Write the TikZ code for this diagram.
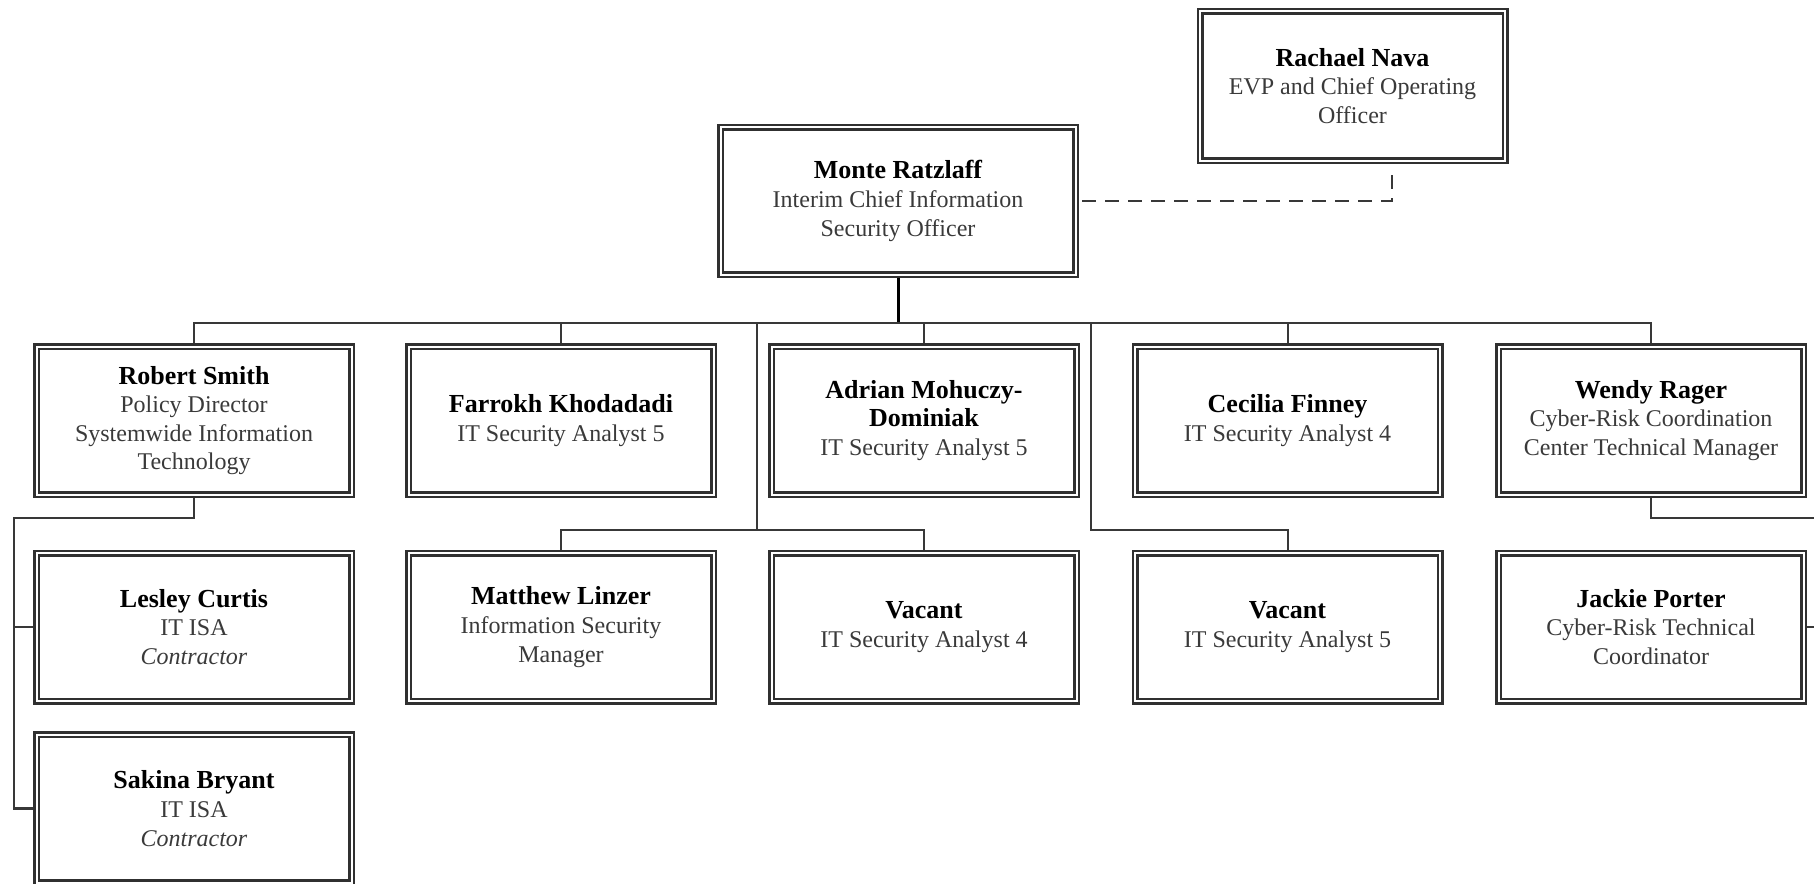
\documentclass[tikz,border=0pt]{standalone}
\usepackage{fontspec}
\setmainfont{Liberation Serif}
\usetikzlibrary{backgrounds}
\definecolor{boxline}{HTML}{303030}
\definecolor{wire}{HTML}{383838}
\definecolor{titlegray}{HTML}{3a3a3a}
\newcommand{\pname}[1]{{\fontsize{13}{15}\selectfont\bfseries\color{black}#1}}
\tikzset{
  orgbox/.style={draw=boxline, line width=1.25pt, double=white, double distance=1pt,
    fill=white, minimum width=152.5pt, minimum height=74pt, align=center, inner sep=0pt,
    font=\fontsize{12}{14.3}\selectfont, text=titlegray},
  widebox/.style={orgbox, minimum width=157.5pt},
  wire/.style={draw=wire, line width=1pt},
  trunk/.style={draw=black, line width=1.5pt},
  dotted link/.style={draw=wire, line width=1.1pt, dash pattern=on 7pt off 4.5pt, dash phase=8.75pt}
}
\begin{document}
\begin{tikzpicture}[x=0.5pt, y=-0.5pt]
\useasboundingbox (0,0) rectangle (1814,883);

% top level
\node[orgbox, minimum height=74.5pt] (nava) at (1352.5,86)
  {\pname{Rachael Nava}\\EVP and Chief Operating\\Officer};
\node[orgbox, minimum width=177.5pt, minimum height=73.5pt] (ratzlaff) at (898,201)
  {\pname{Monte Ratzlaff}\\Interim Chief Information\\Security Officer};

% first row
\node[widebox] (smith) at (194,420.5)
  {\pname{Robert Smith}\\Policy Director\\Systemwide Information\\Technology};
\node[orgbox] (khodadadi) at (561,420.5)
  {\pname{Farrokh Khodadadi}\\IT Security Analyst 5};
\node[orgbox] (mohuczy) at (924,420.5)
  {\pname{Adrian Mohuczy-}\\\pname{Dominiak}\\IT Security Analyst 5};
\node[orgbox] (finney) at (1287.5,420.5)
  {\pname{Cecilia Finney}\\IT Security Analyst 4};
\node[orgbox] (rager) at (1651,420.5)
  {\pname{Wendy Rager}\\Cyber-Risk Coordination\\Center Technical Manager};

% second row
\node[widebox] (curtis) at (194,627)
  {\pname{Lesley Curtis}\\IT ISA\\\textit{Contractor}};
\node[orgbox] (linzer) at (561,627)
  {\pname{Matthew Linzer}\\Information Security\\Manager};
\node[orgbox] (vacantfour) at (924,627)
  {\pname{Vacant}\\IT Security Analyst 4};
\node[orgbox] (vacantfive) at (1287.5,627)
  {\pname{Vacant}\\IT Security Analyst 5};
\node[orgbox] (porter) at (1651,627)
  {\pname{Jackie Porter}\\Cyber-Risk Technical\\Coordinator};

% third row
\node[widebox] (bryant) at (194,808.5)
  {\pname{Sakina Bryant}\\IT ISA\\\textit{Contractor}};

% routing points
\coordinate (bus) at (0,323);
\coordinate (lowbus) at (0,530);
\coordinate (dropA) at (757,323);
\coordinate (dropB) at (1091,323);
\coordinate (leftrail) at (14,518);
\coordinate (rightrail) at (1832,518);
\coordinate (navadrop) at (1392,169);

\begin{scope}[on background layer]
  \draw[trunk] (ratzlaff.south) -- (ratzlaff.south |- bus);
  \draw[wire] (smith.north) -- (smith.north |- bus) -- (rager.north |- bus) -- (rager.north);
  \draw[wire] (khodadadi.north) -- (khodadadi.north |- bus);
  \draw[wire] (mohuczy.north) -- (mohuczy.north |- bus);
  \draw[wire] (finney.north) -- (finney.north |- bus);

  \draw[wire] (dropA) -- (dropA |- lowbus);
  \draw[wire] (linzer.north) -- (linzer.north |- lowbus) -- (vacantfour.north |- lowbus) -- (vacantfour.north);
  \draw[wire] (dropB) -- (dropB |- lowbus) -- (vacantfive.north |- lowbus) -- (vacantfive.north);

  \draw[wire, line width=1.2pt] (smith.south) |- (leftrail) -- (leftrail |- bryant.west) -- (bryant.west);
  \draw[wire, line width=1.2pt] (leftrail |- curtis.west) -- (curtis.west);

  \draw[wire] (rager.south) |- (rightrail) -- (rightrail |- porter.east) -- (porter.east);

  \draw[dotted link] (ratzlaff.east) -| (navadrop);
\end{scope}
\end{tikzpicture}
\end{document}
